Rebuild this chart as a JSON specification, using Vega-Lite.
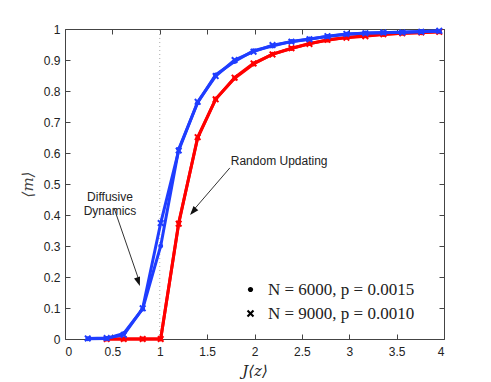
{
  "$schema": "https://vega.github.io/schema/vega-lite/v6.json",
  "width": 379,
  "height": 310,
  "autosize": {"type": "none"},
  "padding": {"left": 65, "top": 29, "right": 47, "bottom": 43},
  "background": "white",
  "config": {
    "view": {"stroke": "#444", "strokeWidth": 1},
    "axis": {"grid": false, "domain": false, "tickColor": "#444", "tickSize": -5, "labelFont": "Liberation Sans", "labelFontSize": 12, "labelColor": "#222"}
  },
  "datasets": {
    "curves": [
      {"model": "Random", "series": "N = 6000, p = 0.0015", "J": 0.44, "m": 0},
      {"model": "Random", "series": "N = 6000, p = 0.0015", "J": 0.62, "m": 0},
      {"model": "Random", "series": "N = 6000, p = 0.0015", "J": 0.82, "m": 0},
      {"model": "Random", "series": "N = 6000, p = 0.0015", "J": 1.01, "m": 0},
      {"model": "Random", "series": "N = 6000, p = 0.0015", "J": 1.2, "m": 0.375},
      {"model": "Random", "series": "N = 6000, p = 0.0015", "J": 1.4, "m": 0.648},
      {"model": "Random", "series": "N = 6000, p = 0.0015", "J": 1.59, "m": 0.774},
      {"model": "Random", "series": "N = 6000, p = 0.0015", "J": 1.79, "m": 0.841},
      {"model": "Random", "series": "N = 6000, p = 0.0015", "J": 1.99, "m": 0.887},
      {"model": "Random", "series": "N = 6000, p = 0.0015", "J": 2.19, "m": 0.919},
      {"model": "Random", "series": "N = 6000, p = 0.0015", "J": 2.39, "m": 0.937},
      {"model": "Random", "series": "N = 6000, p = 0.0015", "J": 2.58, "m": 0.953},
      {"model": "Random", "series": "N = 6000, p = 0.0015", "J": 2.77, "m": 0.964},
      {"model": "Random", "series": "N = 6000, p = 0.0015", "J": 2.97, "m": 0.973},
      {"model": "Random", "series": "N = 6000, p = 0.0015", "J": 3.17, "m": 0.978},
      {"model": "Random", "series": "N = 6000, p = 0.0015", "J": 3.36, "m": 0.982},
      {"model": "Random", "series": "N = 6000, p = 0.0015", "J": 3.56, "m": 0.986},
      {"model": "Random", "series": "N = 6000, p = 0.0015", "J": 3.76, "m": 0.988},
      {"model": "Random", "series": "N = 6000, p = 0.0015", "J": 3.95, "m": 0.991},
      {"model": "Random", "series": "N = 9000, p = 0.0010", "J": 0.44, "m": 0},
      {"model": "Random", "series": "N = 9000, p = 0.0010", "J": 0.62, "m": 0},
      {"model": "Random", "series": "N = 9000, p = 0.0010", "J": 0.82, "m": 0},
      {"model": "Random", "series": "N = 9000, p = 0.0010", "J": 1.01, "m": 0},
      {"model": "Random", "series": "N = 9000, p = 0.0010", "J": 1.2, "m": 0.372},
      {"model": "Random", "series": "N = 9000, p = 0.0010", "J": 1.4, "m": 0.651},
      {"model": "Random", "series": "N = 9000, p = 0.0010", "J": 1.59, "m": 0.773},
      {"model": "Random", "series": "N = 9000, p = 0.0010", "J": 1.79, "m": 0.843},
      {"model": "Random", "series": "N = 9000, p = 0.0010", "J": 1.99, "m": 0.889},
      {"model": "Random", "series": "N = 9000, p = 0.0010", "J": 2.19, "m": 0.918},
      {"model": "Random", "series": "N = 9000, p = 0.0010", "J": 2.39, "m": 0.938},
      {"model": "Random", "series": "N = 9000, p = 0.0010", "J": 2.58, "m": 0.952},
      {"model": "Random", "series": "N = 9000, p = 0.0010", "J": 2.77, "m": 0.965},
      {"model": "Random", "series": "N = 9000, p = 0.0010", "J": 2.97, "m": 0.972},
      {"model": "Random", "series": "N = 9000, p = 0.0010", "J": 3.17, "m": 0.977},
      {"model": "Random", "series": "N = 9000, p = 0.0010", "J": 3.36, "m": 0.983},
      {"model": "Random", "series": "N = 9000, p = 0.0010", "J": 3.56, "m": 0.986},
      {"model": "Random", "series": "N = 9000, p = 0.0010", "J": 3.76, "m": 0.989},
      {"model": "Random", "series": "N = 9000, p = 0.0010", "J": 3.95, "m": 0.991},
      {"model": "Diffusive", "series": "N = 6000, p = 0.0015", "J": 0.24, "m": 0.001},
      {"model": "Diffusive", "series": "N = 6000, p = 0.0015", "J": 0.44, "m": 0.002},
      {"model": "Diffusive", "series": "N = 6000, p = 0.0015", "J": 0.62, "m": 0.018},
      {"model": "Diffusive", "series": "N = 6000, p = 0.0015", "J": 0.82, "m": 0.097},
      {"model": "Diffusive", "series": "N = 6000, p = 0.0015", "J": 1.01, "m": 0.3},
      {"model": "Diffusive", "series": "N = 6000, p = 0.0015", "J": 1.2, "m": 0.612},
      {"model": "Diffusive", "series": "N = 6000, p = 0.0015", "J": 1.4, "m": 0.762},
      {"model": "Diffusive", "series": "N = 6000, p = 0.0015", "J": 1.59, "m": 0.852},
      {"model": "Diffusive", "series": "N = 6000, p = 0.0015", "J": 1.79, "m": 0.895},
      {"model": "Diffusive", "series": "N = 6000, p = 0.0015", "J": 1.99, "m": 0.93},
      {"model": "Diffusive", "series": "N = 6000, p = 0.0015", "J": 2.19, "m": 0.945},
      {"model": "Diffusive", "series": "N = 6000, p = 0.0015", "J": 2.39, "m": 0.96},
      {"model": "Diffusive", "series": "N = 6000, p = 0.0015", "J": 2.58, "m": 0.968},
      {"model": "Diffusive", "series": "N = 6000, p = 0.0015", "J": 2.77, "m": 0.976},
      {"model": "Diffusive", "series": "N = 6000, p = 0.0015", "J": 2.97, "m": 0.983},
      {"model": "Diffusive", "series": "N = 6000, p = 0.0015", "J": 3.17, "m": 0.987},
      {"model": "Diffusive", "series": "N = 6000, p = 0.0015", "J": 3.36, "m": 0.988},
      {"model": "Diffusive", "series": "N = 6000, p = 0.0015", "J": 3.56, "m": 0.99},
      {"model": "Diffusive", "series": "N = 6000, p = 0.0015", "J": 3.76, "m": 0.992},
      {"model": "Diffusive", "series": "N = 6000, p = 0.0015", "J": 3.95, "m": 0.993},
      {"model": "Diffusive", "series": "N = 9000, p = 0.0010", "J": 0.24, "m": 0.002},
      {"model": "Diffusive", "series": "N = 9000, p = 0.0010", "J": 0.44, "m": 0.003},
      {"model": "Diffusive", "series": "N = 9000, p = 0.0010", "J": 0.62, "m": 0.013},
      {"model": "Diffusive", "series": "N = 9000, p = 0.0010", "J": 0.82, "m": 0.099},
      {"model": "Diffusive", "series": "N = 9000, p = 0.0010", "J": 1.01, "m": 0.374},
      {"model": "Diffusive", "series": "N = 9000, p = 0.0010", "J": 1.2, "m": 0.608},
      {"model": "Diffusive", "series": "N = 9000, p = 0.0010", "J": 1.4, "m": 0.765},
      {"model": "Diffusive", "series": "N = 9000, p = 0.0010", "J": 1.59, "m": 0.848},
      {"model": "Diffusive", "series": "N = 9000, p = 0.0010", "J": 1.79, "m": 0.9},
      {"model": "Diffusive", "series": "N = 9000, p = 0.0010", "J": 1.99, "m": 0.927},
      {"model": "Diffusive", "series": "N = 9000, p = 0.0010", "J": 2.19, "m": 0.948},
      {"model": "Diffusive", "series": "N = 9000, p = 0.0010", "J": 2.39, "m": 0.959},
      {"model": "Diffusive", "series": "N = 9000, p = 0.0010", "J": 2.58, "m": 0.967},
      {"model": "Diffusive", "series": "N = 9000, p = 0.0010", "J": 2.77, "m": 0.977},
      {"model": "Diffusive", "series": "N = 9000, p = 0.0010", "J": 2.97, "m": 0.984},
      {"model": "Diffusive", "series": "N = 9000, p = 0.0010", "J": 3.17, "m": 0.986},
      {"model": "Diffusive", "series": "N = 9000, p = 0.0010", "J": 3.36, "m": 0.989},
      {"model": "Diffusive", "series": "N = 9000, p = 0.0010", "J": 3.56, "m": 0.989},
      {"model": "Diffusive", "series": "N = 9000, p = 0.0010", "J": 3.76, "m": 0.991},
      {"model": "Diffusive", "series": "N = 9000, p = 0.0010", "J": 3.95, "m": 0.994}
    ]
  },
  "layer": [
    {
      "data": {"values": [{"J": 1}]},
      "mark": {"type": "rule", "color": "#aaa", "strokeDash": [1, 3], "strokeWidth": 1},
      "encoding": {
        "x": {"field": "J", "type": "quantitative", "scale": {"domain": [0, 4], "nice": false},
          "axis": {"orient": "bottom", "values": [0, 0.5, 1, 1.5, 2, 2.5, 3, 3.5, 4], "format": ".1~f", "labelPadding": 12,
            "title": "J⟨z⟩", "titleFont": "DejaVu Serif", "titleFontStyle": "italic", "titleFontWeight": "normal", "titleFontSize": 15, "titleColor": "#222", "titlePadding": 6}},
        "y": {"datum": 0, "type": "quantitative", "scale": {"domain": [0, 1], "nice": false},
          "axis": {"orient": "left", "values": [0, 0.1, 0.2, 0.3, 0.4, 0.5, 0.6, 0.7, 0.8, 0.9, 1], "format": ".1~f", "labelPadding": 10,
            "title": "⟨m⟩", "titleFont": "DejaVu Serif", "titleFontStyle": "italic", "titleFontWeight": "normal", "titleFontSize": 15, "titleColor": "#444", "titlePadding": 8}},
        "y2": {"datum": 1}
      }
    },
    {
      "data": {"name": "curves"},
      "transform": [{"filter": "datum.model === 'Random'"}],
      "mark": {"type": "point", "color": "black", "filled": true, "opacity": 0, "size": 49},
      "encoding": {
        "x": {"field": "J", "type": "quantitative", "axis": null},
        "y": {"field": "m", "type": "quantitative", "axis": null},
        "shape": {"field": "series", "type": "nominal",
          "scale": {"domain": ["N = 6000, p = 0.0015", "N = 9000, p = 0.0010"], "range": ["M-0.7,0A0.7,0.7 0 1,0 0.7,0A0.7,0.7 0 1,0 -0.7,0Z", "M0,-0.4L0.6,-1L1,-0.6L0.4,0L1,0.6L0.6,1L0,0.4L-0.6,1L-1,0.6L-0.4,0L-1,-0.6L-0.6,-1Z"]},
          "legend": {"orient": "none", "legendX": 177, "legendY": 252, "title": null, "padding": 0, "symbolSize": 56,
            "symbolFillColor": "black", "symbolOpacity": 1,
            "labelFont": "Liberation Serif", "labelFontSize": 17, "labelColor": "#222", "labelOffset": 9, "rowPadding": 6}}
      }
    },
    {
      "data": {"name": "curves"},
      "transform": [{"filter": "datum.model === 'Random'"}],
      "mark": {"type": "line", "color": "#ff0000", "strokeWidth": 3},
      "encoding": {
        "x": {"field": "J", "type": "quantitative",
          "axis": {"orient": "top", "values": [0, 0.5, 1, 1.5, 2, 2.5, 3, 3.5, 4], "labels": false, "title": null}},
        "y": {"field": "m", "type": "quantitative",
          "axis": {"orient": "right", "values": [0, 0.1, 0.2, 0.3, 0.4, 0.5, 0.6, 0.7, 0.8, 0.9, 1], "labels": false, "title": null}},
        "detail": {"field": "series"}
      }
    },
    {
      "data": {"name": "curves"},
      "transform": [{"filter": "datum.model === 'Random'"}],
      "mark": {"type": "point", "color": "#ff0000", "filled": true, "opacity": 1, "size": 49},
      "encoding": {
        "x": {"field": "J", "type": "quantitative", "axis": null},
        "y": {"field": "m", "type": "quantitative", "axis": null},
        "shape": {"field": "series", "type": "nominal", "legend": null}
      }
    },
    {
      "data": {"name": "curves"},
      "transform": [{"filter": "datum.model === 'Diffusive'"}],
      "mark": {"type": "line", "color": "#1f3dff", "strokeWidth": 3},
      "encoding": {
        "x": {"field": "J", "type": "quantitative", "axis": null},
        "y": {"field": "m", "type": "quantitative", "axis": null},
        "detail": {"field": "series"}
      }
    },
    {
      "data": {"name": "curves"},
      "transform": [{"filter": "datum.model === 'Diffusive'"}],
      "mark": {"type": "point", "color": "#1f3dff", "filled": true, "opacity": 1, "size": 49},
      "encoding": {
        "x": {"field": "J", "type": "quantitative", "axis": null},
        "y": {"field": "m", "type": "quantitative", "axis": null},
        "shape": {"field": "series", "type": "nominal", "legend": null}
      }
    },
    {
      "data": {"values": [{}]},
      "mark": {"type": "text", "text": ["Diffusive", "Dynamics"], "font": "Liberation Sans", "fontSize": 12, "color": "#222", "align": "center", "baseline": "middle", "lineHeight": 14},
      "encoding": {"x": {"datum": 0.475, "type": "quantitative", "axis": null}, "y": {"datum": 0.458, "type": "quantitative", "axis": null}}
    },
    {
      "data": {"values": [{}]},
      "mark": {"type": "text", "text": "Random Updating", "font": "Liberation Sans", "fontSize": 12, "color": "#222", "align": "center", "baseline": "middle"},
      "encoding": {"x": {"datum": 2.26, "type": "quantitative", "axis": null}, "y": {"datum": 0.574, "type": "quantitative", "axis": null}}
    },
    {
      "data": {"values": [{}]},
      "mark": {"type": "rule", "color": "#333", "strokeWidth": 1},
      "encoding": {"x": {"datum": 0.517, "type": "quantitative", "axis": null}, "y": {"datum": 0.423, "type": "quantitative", "axis": null}, "x2": {"datum": 0.78}, "y2": {"datum": 0.19}}
    },
    {
      "data": {"values": [{}]},
      "mark": {"type": "point", "shape": "M0,0L-0.35,1L0.35,1Z", "filled": true, "color": "#111", "size": 324, "angle": 161.6, "opacity": 1},
      "encoding": {"x": {"datum": 0.79, "type": "quantitative", "axis": null}, "y": {"datum": 0.171, "type": "quantitative", "axis": null}}
    },
    {
      "data": {"values": [{}]},
      "mark": {"type": "rule", "color": "#333", "strokeWidth": 1},
      "encoding": {"x": {"datum": 1.74, "type": "quantitative", "axis": null}, "y": {"datum": 0.552, "type": "quantitative", "axis": null}, "x2": {"datum": 1.34}, "y2": {"datum": 0.41}}
    },
    {
      "data": {"values": [{}]},
      "mark": {"type": "point", "shape": "M0,0L-0.35,1L0.35,1Z", "filled": true, "color": "#111", "size": 324, "angle": 220.4, "opacity": 1},
      "encoding": {"x": {"datum": 1.32, "type": "quantitative", "axis": null}, "y": {"datum": 0.4, "type": "quantitative", "axis": null}}
    }
  ],
  "resolve": {"axis": {"x": "independent", "y": "independent"}}
}
